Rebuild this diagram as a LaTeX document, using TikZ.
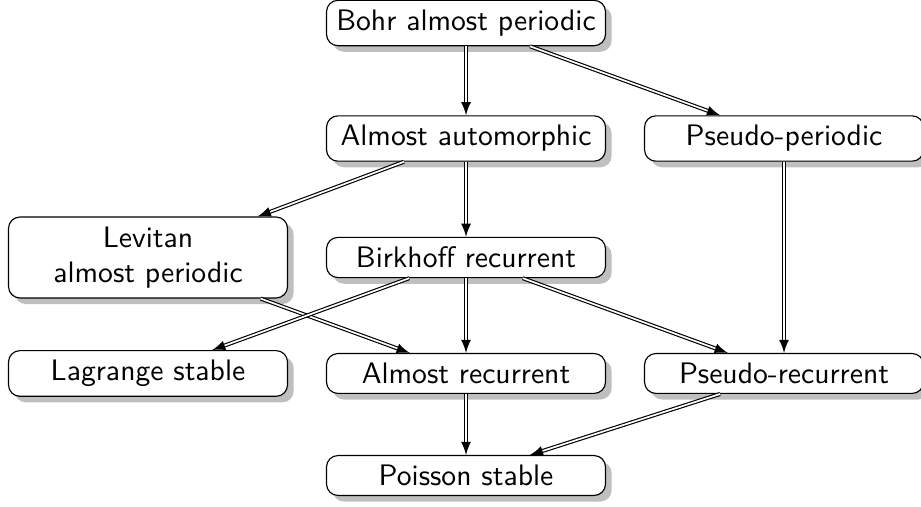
\documentclass[tikz,border=0pt]{standalone}
\usetikzlibrary{shadows}
\begin{document}
\begin{tikzpicture}[
    prop/.style={rectangle, rounded corners=4pt, draw, fill=white, drop shadow,
      minimum width=3.44cm, align=center, font=\sffamily\fontsize{10.4}{12.5}\selectfont},
    imp/.style={double, -latex}]
    \useasboundingbox (0,0) rectangle (11.356,-6.251);

    \node[prop] at (5.746, -0.284) (bohr) {Bohr almost periodic};
    \node[prop] at (5.746, -1.708) (aa) {Almost automorphic};
    \node[prop] at (9.667, -1.708) (pp) {Pseudo-periodic};
    \node[prop] at (1.825, -3.175) (lev) {Levitan\\almost periodic};
    \node[prop] at (5.746, -3.175) (bir) {Birkhoff recurrent};
    \node[prop] at (1.825, -4.605) (lag) {Lagrange stable};
    \node[prop] at (5.746, -4.605) (ar) {Almost recurrent};
    \node[prop] at (9.667, -4.605) (pr) {Pseudo-recurrent};
    \node[prop] at (5.746, -5.863) (poi) {Poisson stable};

    \draw[imp] (bohr) -- (aa);
    \draw[imp] (bohr) -- (pp);
    \draw[imp] (aa) -- (lev);
    \draw[imp] (aa) -- (bir);
    \draw[imp] (pp) -- (pr);
    \draw[imp] (lev) -- (ar);
    \draw[imp] (bir) -- (lag);
    \draw[imp] (bir) -- (ar);
    \draw[imp] (bir) -- (pr);
    \draw[imp] (ar) -- (poi);
    \draw[imp] (pr) -- (poi);
  \end{tikzpicture}
\end{document}
